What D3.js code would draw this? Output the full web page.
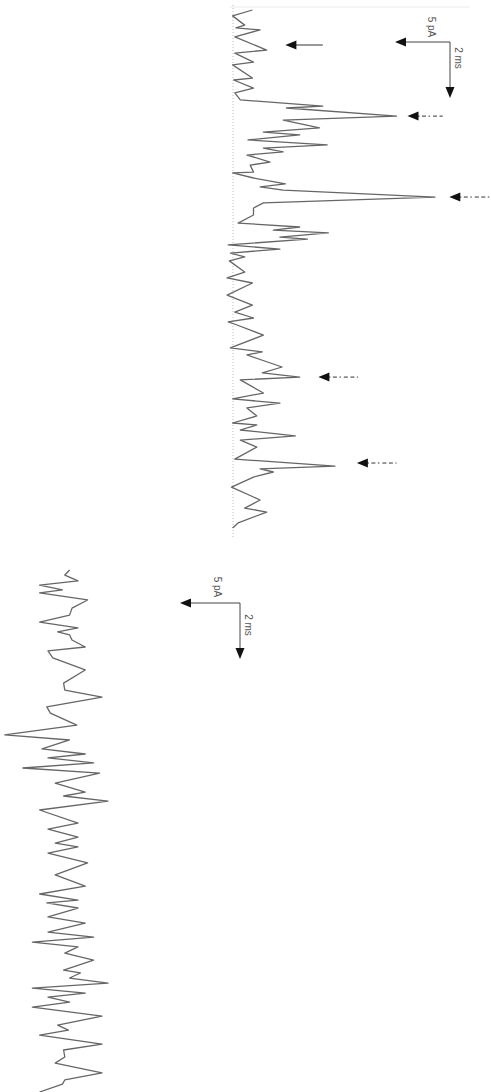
<!DOCTYPE html>
<html>
<head>
<meta charset="utf-8">
<script src="https://cdn.jsdelivr.net/npm/d3@7"></script>
<style>
  body { margin: 0; background: #fff; }
  svg { display: block; }
  text { font-family: "Liberation Sans", Arial, sans-serif; fill: #555; }
</style>
</head>
<body>
<div id="chart"></div>
<script>
// upper trace (time in ms, current in pA above the lowest level)
var topTime = [0.00, 0.21, 0.54, 0.64, 0.71, 0.96, 1.43, 1.54, 1.86, 1.96, 2.43, 2.50, 2.79, 2.96, 3.21, 3.43, 3.50, 3.79,
    3.93, 4.21, 4.36, 4.46, 4.64, 4.82, 4.93, 5.07, 5.18, 5.43, 5.54, 5.79, 5.82, 6.00, 6.21, 6.32, 6.43, 6.68,
    6.89, 7.07, 7.32, 7.61, 7.75, 7.86, 7.96, 8.11, 8.18, 8.39, 8.54, 8.68, 8.82, 8.96, 9.36, 9.57, 9.75, 10.18,
    10.54, 10.79, 11.00, 11.14, 11.25, 11.61, 12.07, 12.21, 12.32, 12.75, 12.96, 13.11, 13.21, 13.68, 13.89,
    14.04, 14.21, 14.50, 14.75, 14.82, 15.00, 15.21, 15.36, 15.61, 16.04, 16.29, 16.39, 16.50, 16.68, 17.04,
    17.50, 17.79, 17.93, 18.32, 18.50];
var topCurrent = [2.4, 0.6, 1.7, 0.9, 3.1, 0.8, 3.7, 0.8, 2.5, 0.6, 2.4, 0.7, 2.5, 0.8, 1.3, 8.8, 5.5, 15.5,
    5.2, 8.5, 3.4, 6.7, 2.0, 9.2, 3.4, 5.2, 1.9, 4.0, 2.2, 2.5, 0.6, 2.5, 5.4, 3.1, 5.2, 19.0,
    3.4, 2.5, 2.5, 1.1, 6.7, 4.3, 9.3, 4.9, 7.4, 0.2, 4.9, 0.4, 1.7, 0.3, 1.7, 0.1, 2.4, 0.1,
    2.4, 0.8, 2.5, 0.2, 1.0, 3.4, 0.4, 3.3, 1.9, 5.1, 3.3, 6.7, 1.3, 3.4, 0.6,
    4.9, 1.9, 2.8, 0.6, 2.8, 1.3, 6.3, 1.3, 2.8, 0.8, 9.9, 3.1, 4.3, 2.5, 0.5,
    3.1, 1.7, 3.7, 1.1, 0.6];

// lower trace
var botTime = [0.00, 0.18, 0.39, 0.54, 0.71, 0.82, 1.07, 1.36, 1.61, 1.86, 2.07, 2.21, 2.32, 2.50, 2.75, 2.89,
    3.14, 3.57, 4.04, 4.29, 4.54, 4.89, 5.11, 5.54, 5.89, 6.07, 6.39, 6.57, 6.71, 6.89, 7.07, 7.25, 7.61, 7.93,
    8.07, 8.25, 8.57, 9.04, 9.25, 9.54, 9.75, 9.89, 10.11, 10.46, 10.89, 11.29, 11.57, 11.79, 11.89, 12.07,
    12.39, 12.61, 12.93, 13.11, 13.29, 13.46, 13.68, 13.93, 14.29, 14.39, 14.57, 14.75, 14.93, 15.11, 15.25,
    15.43, 15.61, 15.93, 16.25, 16.43, 16.61, 16.93, 17.14, 17.39, 17.61, 17.96, 18.21, 18.36, 18.64];
var botCurrent = [5.8, 5.4, 6.5, 3.3, 5.2, 3.3, 7.3, 6.0, 5.8, 3.3, 6.5, 4.8, 5.8, 6.0, 7.1, 4.0,
    4.4, 7.1, 5.3, 5.4, 8.5, 3.9, 4.2, 6.4, 0.4, 5.8, 3.5, 7.1, 4.0, 7.8, 1.9, 8.3, 4.6, 7.1,
    5.3, 9.0, 3.3, 6.5, 4.0, 6.5, 4.6, 6.5, 4.0, 7.3, 4.6, 7.1, 3.3, 6.5, 3.9, 6.5,
    4.0, 7.1, 4.0, 7.8, 2.7, 6.5, 5.4, 7.8, 5.3, 6.7, 5.8, 9.0, 2.7, 7.1, 4.0,
    5.8, 2.7, 8.5, 4.8, 5.7, 3.3, 8.5, 5.3, 5.4, 4.6, 8.5, 5.4, 5.2, 3.3];

// event arrows on the upper trace: time, tip, tail (pA), dashed or not
var eventTime = [1.25, 3.79, 6.68, 13.11, 16.18];
var eventTip = [5.4, 16.5, 20.3, 8.4, 11.9];
var eventTail = [8.8, 19.7, 24.0, 12.0, 15.5];
var eventDashed = [false, true, true, true, true];

var W = 491, H = 1092;
var svg = d3.select('#chart').append('svg').attr('width', W).attr('height', H);

var xTop = d3.scaleLinear().domain([0, 20]).range([226, 446]);
var yTop = d3.scaleLinear().domain([0, 18.5]).range([10, 528]);
var xBot = d3.scaleLinear().domain([0, 10]).range([0, 120]);
var yBot = d3.scaleLinear().domain([0, 18.64]).range([570, 1092]);

// faint frame lines round the upper panel
svg.append('line').attr('x1', 230).attr('x2', 470).attr('y1', 7).attr('y2', 7)
    .attr('stroke', '#ececec').attr('stroke-width', 1);
svg.append('line').attr('x1', 233).attr('x2', 233).attr('y1', 5).attr('y2', 537)
    .attr('stroke', '#aaa').attr('stroke-width', 0.8).attr('stroke-dasharray', '1,2');

function drawTrace(times, values, xs, ys) {
    var pts = times.map(function (t, i) { return [t, values[i]]; });
    var line = d3.line()
        .x(function (d) { return xs(d[1]); })
        .y(function (d) { return ys(d[0]); });
    svg.append('path').datum(pts).attr('d', line)
        .attr('fill', 'none').attr('stroke', '#666').attr('stroke-width', 1.3)
        .attr('stroke-linejoin', 'round');
}
drawTrace(topTime, topCurrent, xTop, yTop);
drawTrace(botTime, botCurrent, xBot, yBot);

function headLeft(x, y) {
    svg.append('path').attr('d', 'M' + x + ',' + y + 'L' + (x + 11) + ',' + (y - 4.5) + 'L' + (x + 11) + ',' + (y + 4.5) + 'Z')
        .attr('fill', '#111');
}
function headDown(x, y) {
    svg.append('path').attr('d', 'M' + x + ',' + y + 'L' + (x - 4.5) + ',' + (y - 11) + 'L' + (x + 4.5) + ',' + (y - 11) + 'Z')
        .attr('fill', '#111');
}

// event arrows
eventTime.forEach(function (t, i) {
    var y = yTop(t);
    var tip = xTop(eventTip[i]), tail = xTop(eventTail[i]);
    svg.append('line').attr('x1', tip + 8).attr('x2', tail).attr('y1', y).attr('y2', y)
        .attr('stroke', '#333').attr('stroke-width', 1)
        .attr('stroke-dasharray', eventDashed[i] ? '4,2.5,4,2.5,1.5,3' : null);
    headLeft(tip, y);
});

// scale bars: 5 pA and 2 ms
function scaleBar(cx, cy, xs, ys, labA, labT) {
    var lenA = xs(5) - xs(0);
    var lenT = ys(2) - ys(0);
    svg.append('line').attr('x1', cx).attr('x2', cx - lenA + 8).attr('y1', cy).attr('y2', cy)
        .attr('stroke', '#444').attr('stroke-width', 1);
    svg.append('line').attr('x1', cx).attr('x2', cx).attr('y1', cy).attr('y2', cy + lenT - 8)
        .attr('stroke', '#444').attr('stroke-width', 1);
    headLeft(cx - lenA, cy);
    headDown(cx, cy + lenT);
    svg.append('text').attr('transform', 'translate(' + labA[0] + ',' + labA[1] + ') rotate(90)')
        .attr('text-anchor', 'middle').attr('font-size', 10).text('5 pA');
    svg.append('text').attr('transform', 'translate(' + labT[0] + ',' + labT[1] + ') rotate(90)')
        .attr('text-anchor', 'middle').attr('font-size', 10).text('2 ms');
}
scaleBar(450, 42, xTop, yTop, [428, 27], [455, 58]);
scaleBar(240, 603, xBot, yBot, [214, 587], [245, 625]);
</script>
</body>
</html>
